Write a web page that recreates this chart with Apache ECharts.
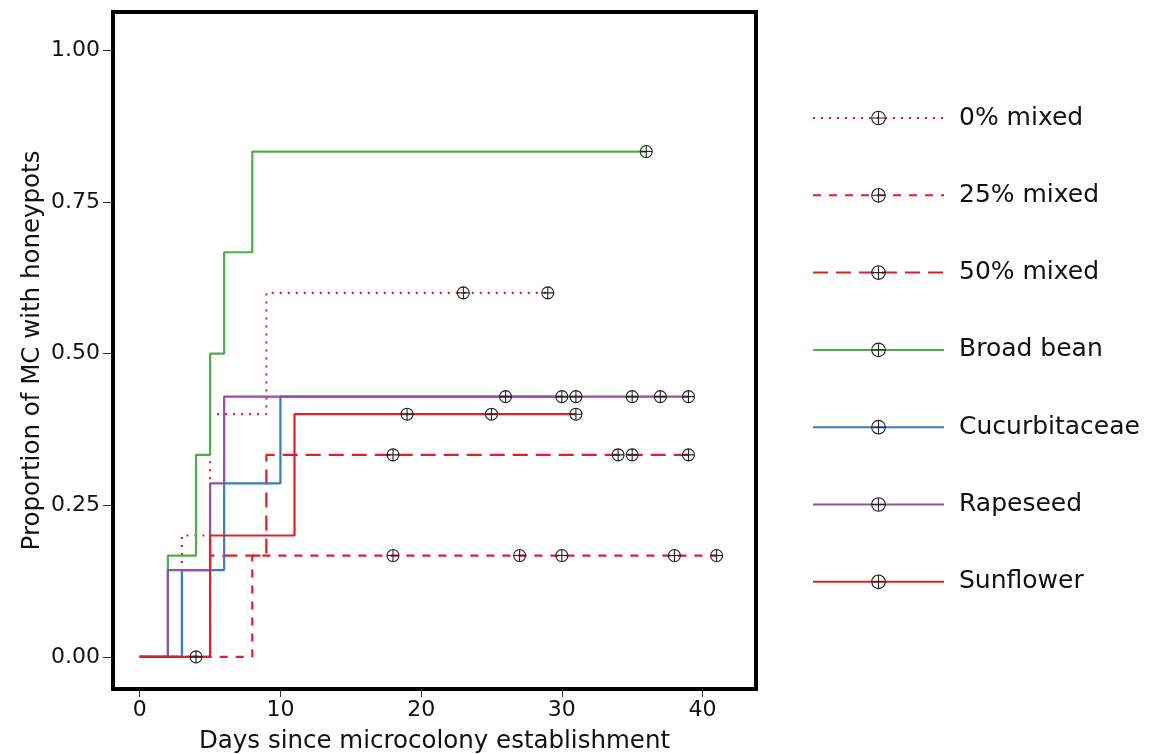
<!DOCTYPE html>
<html>
<head>
<meta charset="utf-8">
<script src="https://cdn.jsdelivr.net/npm/echarts@6/dist/echarts.min.js"></script>
<style>
  html, body { margin: 0; padding: 0; background: #fff; }
  #chart { width: 1151px; height: 754px; }
</style>
</head>
<body>
<div id="chart"></div>
<script>
// group names, legend order
const groups = ['0% mixed', '25% mixed', '50% mixed', 'Broad bean', 'Cucurbitaceae', 'Rapeseed', 'Sunflower'];

// days where each curve steps up, and the level after the step
const mixed0Days = [0, 3, 5, 9];
const mixed0Prop = [0, 0.2, 0.4, 0.6];
const mixed0Censor = [23, 29];

const mixed25Days = [0, 8];
const mixed25Prop = [0, 0.167];
const mixed25Censor = [4, 18, 27, 30, 38, 41];

const mixed50Days = [0, 5, 9];
const mixed50Prop = [0, 0.167, 0.333];
const mixed50Censor = [18, 34, 35, 39];

const beanDays = [0, 2, 4, 5, 6, 8];
const beanProp = [0, 0.167, 0.333, 0.5, 0.667, 0.833];
const beanCensor = [36];

const cucDays = [0, 3, 6, 10];
const cucProp = [0, 0.143, 0.286, 0.429];
const cucCensor = [26, 30];

const rapeDays = [0, 2, 5, 6];
const rapeProp = [0, 0.143, 0.286, 0.429];
const rapeCensor = [31, 35, 37, 39];

const sunDays = [0, 5, 11];
const sunProp = [0, 0.2, 0.4];
const sunCensor = [19, 25, 31];

const xTicks = [0, 10, 20, 30, 40];
const yTicks = [0, 0.25, 0.5, 0.75, 1];

const FONT = 'DejaVu Sans';
const TXT = '#111';
const RED = '#dc2228';
// circle with a plus inside, the censor mark
const CENSOR = 'path://M10,0A10,10,0,1,1,-10,0A10,10,0,1,1,10,0ZM-10,0L10,0M0,-10L0,10';

/** merge step points and censor points into one sorted list of data items */
const buildData = (days, prop, censor) => {
    const items = days.map((d, i) => ({ value: [d, prop[i]], symbol: 'none' }));
    for (const c of censor) {
        // level in force at day c
        let level = 0;
        days.forEach((d, i) => { if (d <= c) level = prop[i]; });
        items.push({ value: [c, level] });
    }
    items.sort((a, b) => a.value[0] - b.value[0]);
    return items;
};

const makeSeries = (name, days, prop, censor, color, dash) => ({
    name,
    type: 'line',
    step: 'end',
    data: buildData(days, prop, censor),
    symbol: CENSOR,
    symbolSize: 12,
    showSymbol: true,
    itemStyle: { color: 'rgba(0,0,0,0)', borderColor: '#222', borderWidth: 1.1 },
    lineStyle: { color, width: 2.2, type: dash },
    emphasis: { disabled: true },
});

const chart = echarts.init(document.getElementById('chart'));
chart.setOption({
    animation: false,
    textStyle: { fontFamily: FONT },
    grid: {
        left: 113, right: 395, top: 12, bottom: 65,
        outerBoundsMode: 'none',
        containLabel: false,
        show: true, borderColor: '#000', borderWidth: 4,
    },
    legend: {
        orient: 'vertical',
        left: 812, top: 105,
        padding: 0,
        data: groups,
        itemWidth: 131,
        itemHeight: 17,
        itemGap: 51.3,
        itemStyle: { borderWidth: 1.1, borderColor: '#222' },
        textStyle: { fontFamily: FONT, fontSize: 25, color: TXT, lineHeight: 26, padding: [0, 0, 0, 10] },
    },
    xAxis: {
        type: 'value',
        min: -1.9, max: 43.8,
        name: 'Days since microcolony establishment',
        nameLocation: 'middle',
        nameGap: 40,
        nameMoveOverlap: false,
        nameTextStyle: { fontSize: 24.5, color: TXT, fontFamily: FONT },
        axisLine: { show: false, onZero: false },
        splitLine: { show: false },
        axisTick: { show: true, length: 8, lineStyle: { color: '#333' }, customValues: xTicks },
        axisLabel: { fontSize: 22, color: TXT, margin: 10, customValues: xTicks },
    },
    yAxis: {
        type: 'value',
        min: -0.053, max: 1.063,
        name: 'Proportion of MC with honeypots',
        nameLocation: 'middle',
        nameGap: 68,
        nameMoveOverlap: false,
        nameTextStyle: { fontSize: 24.5, color: TXT, fontFamily: FONT },
        axisLine: { show: false, onZero: false },
        splitLine: { show: false },
        axisTick: { show: true, length: 10, lineStyle: { color: '#333' }, customValues: yTicks },
        axisLabel: {
            fontSize: 22, color: TXT, margin: 13, customValues: yTicks,
            formatter: (v) => v.toFixed(2),
        },
    },
    series: [
        makeSeries(groups[0], mixed0Days, mixed0Prop, mixed0Censor, RED, [2, 6]),
        makeSeries(groups[1], mixed25Days, mixed25Prop, mixed25Censor, RED, [8, 8]),
        makeSeries(groups[2], mixed50Days, mixed50Prop, mixed50Censor, RED, [15, 8]),
        makeSeries(groups[3], beanDays, beanProp, beanCensor, '#4daf4a', 'solid'),
        makeSeries(groups[4], cucDays, cucProp, cucCensor, '#377eb8', 'solid'),
        makeSeries(groups[5], rapeDays, rapeProp, rapeCensor, '#984ea3', 'solid'),
        makeSeries(groups[6], sunDays, sunProp, sunCensor, RED, 'solid'),
    ],
});
</script>
</body>
</html>
